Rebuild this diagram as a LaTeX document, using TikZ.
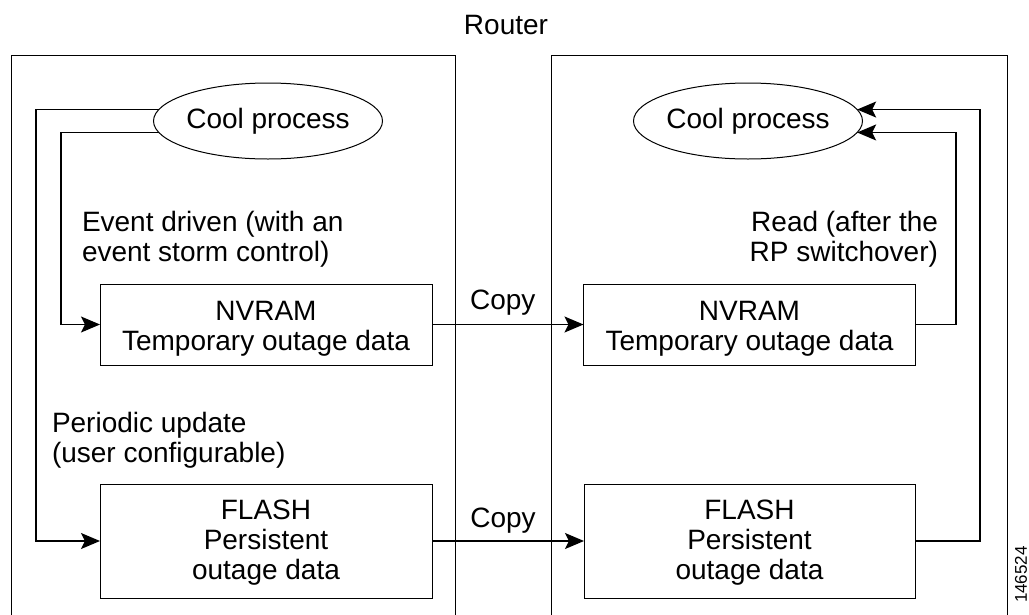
\documentclass[tikz,border=0pt]{standalone}
\usepackage{fontspec}
\setmainfont{Liberation Sans}
\usetikzlibrary{shapes.geometric,arrows.meta}
\begin{document}
\begin{tikzpicture}[x=1pt,y=-1pt,
  frame/.style={draw,line width=1pt},
  proc/.style={draw,ellipse,line width=1pt,minimum width=229pt,minimum height=76pt,inner sep=0pt,outer sep=0pt},
  store/.style={draw,rectangle,line width=1pt,inner sep=0pt,outer sep=0pt,minimum width=332pt},
  txt/.style={inner sep=0pt,outer sep=0pt,font=\fontsize{28}{30}\selectfont},
  conn/.style={line width=1.2pt,-{Stealth[length=19pt,width=16pt,inset=4pt]}}
]
\useasboundingbox (0,0) rectangle (1029,614);
\clip (0,0) rectangle (1029,614);
\fill[white] (0,0) rectangle (1029,614);

% title
\node[txt,anchor=base] (title) at (506,34) {Router};

% router halves
\draw[frame] (11,660) -- (11,55) -- (455,55) -- (455,660);
\draw[frame] (551,660) -- (551,55) -- (1007,55) -- (1007,660);

% processes
\node[proc] (lcool) at (268,121) {};
\node[txt] (lcooltxt) at (268,121) {Cool process};
\node[proc] (rcool) at (748,121) {};
\node[txt] (rcooltxt) at (748,121) {Cool process};

% storage boxes
\node[store,minimum height=81pt] (lnvram) at (266,324.5) {};
\node[store,minimum height=81pt] (rnvram) at (749.5,324.5) {};
\node[store,minimum height=114pt] (lflash) at (266,541) {};
\node[store,minimum height=114pt,minimum width=331pt] (rflash) at (749.5,541) {};

\node[txt,anchor=north,align=center] (lnvramtxt) at (266,301.5) {NVRAM\\Temporary outage data};
\node[txt,anchor=north,align=center] (rnvramtxt) at (749.5,301.5) {NVRAM\\Temporary outage data};
\node[txt,anchor=north,align=center] (lflashtxt) at (266,500) {FLASH\\Persistent\\outage data};
\node[txt,anchor=north,align=center] (rflashtxt) at (749.5,500) {FLASH\\Persistent\\outage data};

% labels
\node[txt,anchor=north west,align=left] (evt) at (82,211.5) {Event driven (with an\\event storm control)};
\node[txt,anchor=north east,align=right] (rd) at (938,211.5) {Read (after the\\RP switchover)};
\node[txt,anchor=north west,align=left] (per) at (52,412) {Periodic update\\(user configurable)};

% guide coordinates
\coordinate (lout) at (36,0);
\coordinate (lin) at (61,0);
\coordinate (rin) at (956,0);
\coordinate (rout) at (980,0);

% left connectors
\draw[conn] (lcool.174) -- (lcool.174 -| lout) |- (lflash.west);
\draw[conn] (lcool.186) -- (lcool.186 -| lin) |- (lnvram.west);

% right connectors
\draw[conn] (rnvram.east) -- (rnvram.east -| rin) |- (rcool.-6);
\draw[conn] (rflash.east) -- (rflash.east -| rout) |- (rcool.6);

% copy arrows
\draw[conn] (lnvram.east) -- node[txt,above=9pt,xshift=-5pt] (copy1) {Copy} (rnvram.west);
\draw[conn] (lflash.east) -- node[txt,above=8pt,xshift=-5pt] (copy2) {Copy} (rflash.west);

% figure number
\node[inner sep=0pt,rotate=90,anchor=east,font=\fontsize{17}{17}\selectfont] (fignum) at (1021,546) {146524};
\end{tikzpicture}
\end{document}
